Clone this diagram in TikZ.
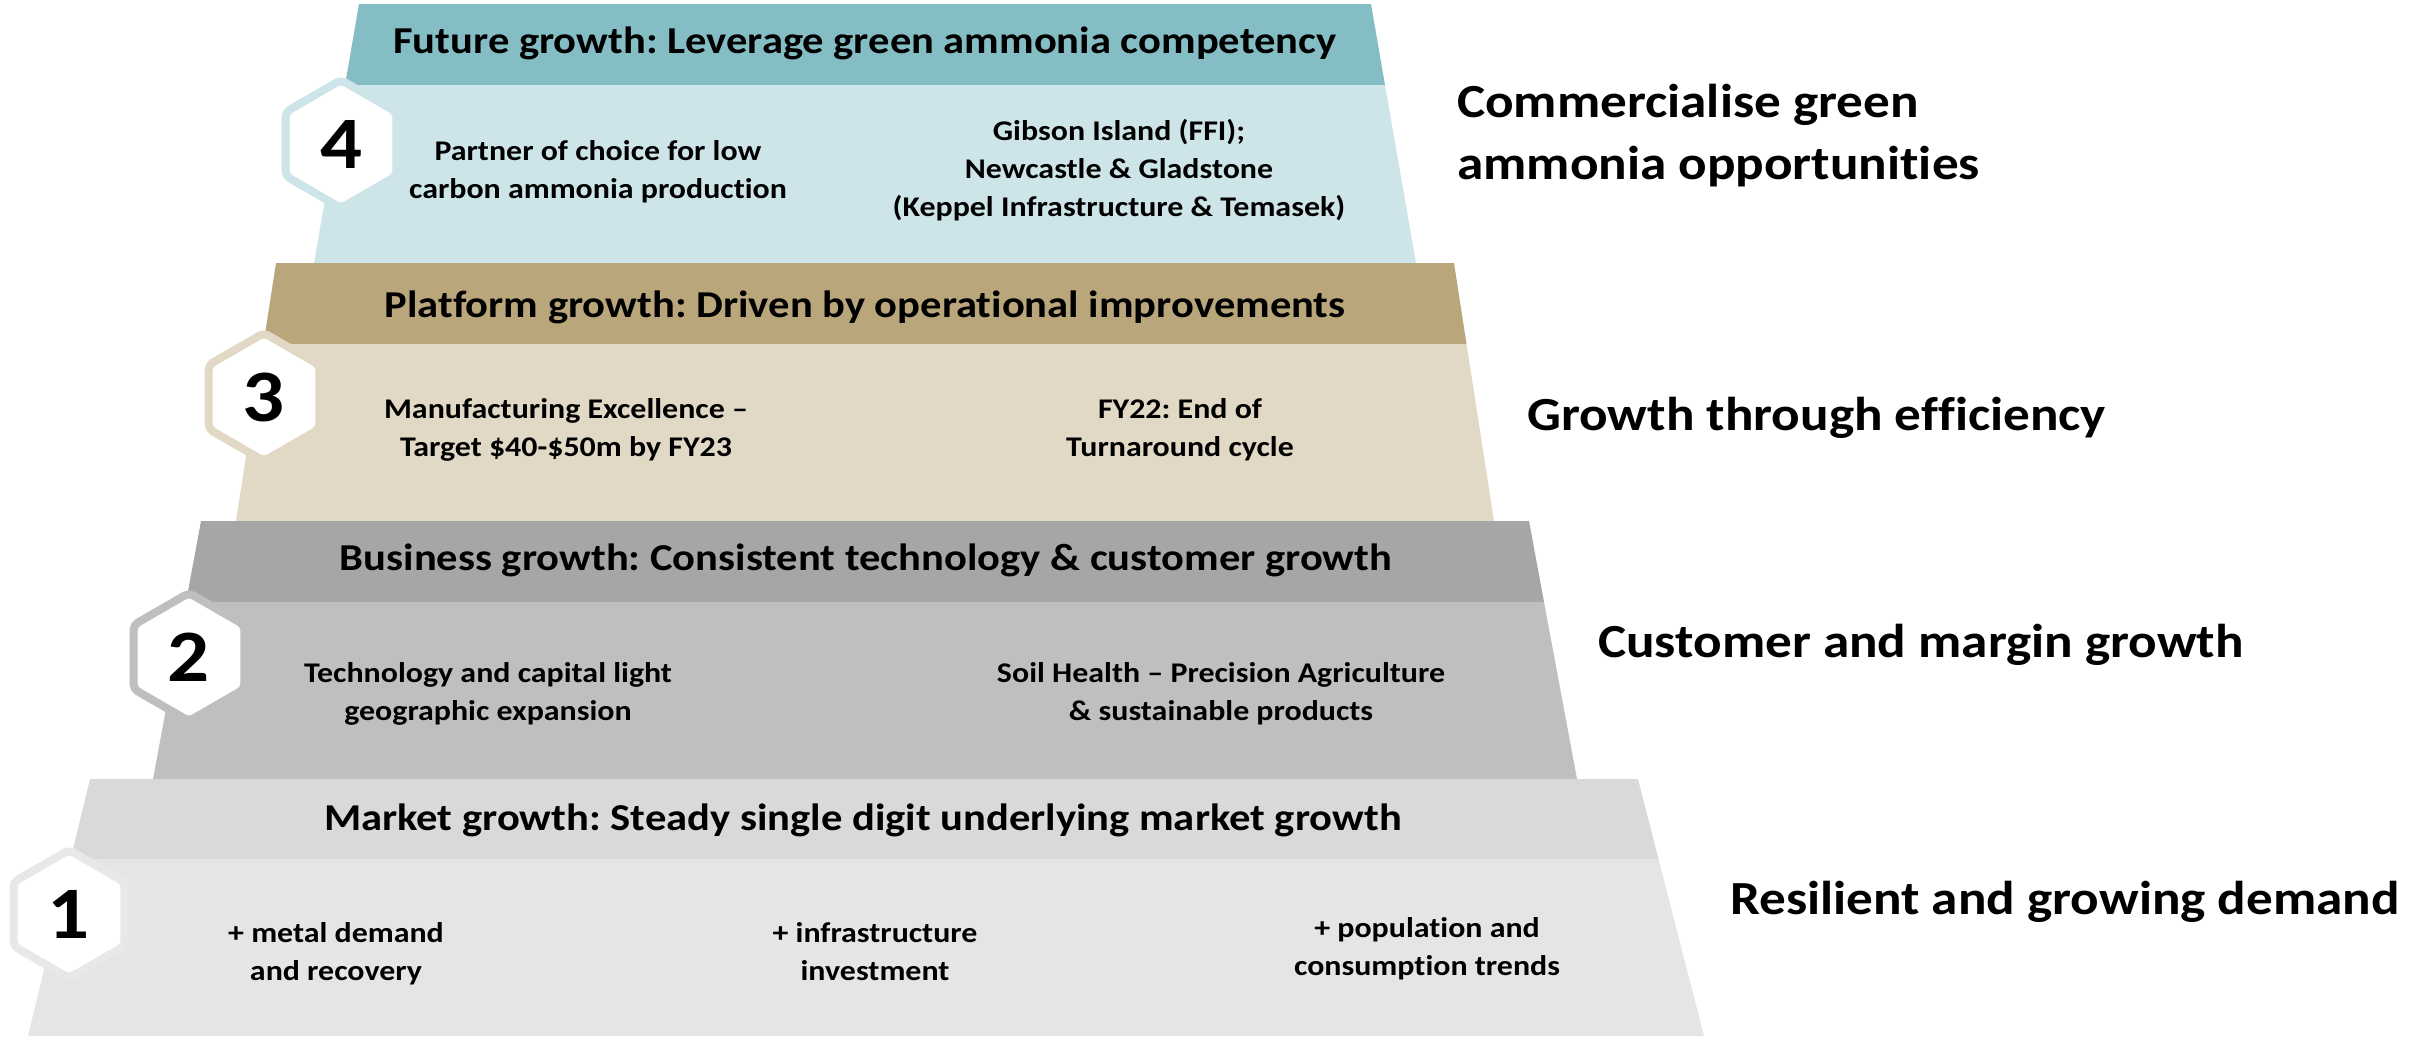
\documentclass[tikz,border=0pt]{standalone}
\usepackage{fontspec}
\setmainfont{Carlito}[FakeStretch=1.12,Ligatures=NoCommon]
\usetikzlibrary{shapes.geometric}
\definecolor{tealH}{HTML}{84BDC4}
\definecolor{tealB}{HTML}{CDE5E8}
\definecolor{sandH}{HTML}{B9A67A}
\definecolor{sandB}{HTML}{E1D9C5}
\definecolor{greyH}{HTML}{A6A6A6}
\definecolor{greyB}{HTML}{BFBFBF}
\definecolor{lightH}{HTML}{D9D9D9}
\definecolor{lightB}{HTML}{E5E5E5}
\definecolor{lightX}{HTML}{E8E8E8}
\frenchspacing
\tikzset{
  hexbox/.style={regular polygon, regular polygon sides=6, shape border rotate=30,
    minimum size=128pt, inner sep=0pt, fill=white, line width=8pt, rounded corners=5pt,
    font=\fontsize{74}{80}\selectfont\bfseries},
  headtext/.style={anchor=base, inner sep=0pt, font=\fontsize{38}{46}\selectfont\bfseries},
  bodytext/.style={anchor=base, inner sep=0pt, align=center, font=\fontsize{28.5}{38}\selectfont\bfseries},
  sidetext/.style={anchor=base west, inner sep=0pt, align=left, font=\fontsize{47.5}{62}\selectfont\bfseries}
}
\begin{document}
\begin{tikzpicture}[x=1pt,y=-1pt]
\useasboundingbox (0,0) rectangle (2425,1036);
% tier 4
\fill[tealH] (359,4) -- (1371,4) -- (1385,85) -- (345,85) -- cycle;
\fill[tealB] (345,85) -- (1385,85) -- (1416,263) -- (314,263) -- cycle;
% tier 3
\fill[sandH] (276,263) -- (1454,263) -- (1466.5,344) -- (263.5,344) -- cycle;
\fill[sandB] (263.5,344) -- (1466.5,344) -- (1494,521) -- (236,521) -- cycle;
% tier 2
\fill[greyH] (201,521) -- (1529,521) -- (1544,602) -- (186,602) -- cycle;
\fill[greyB] (186,602) -- (1544,602) -- (1577,779) -- (153,779) -- cycle;
% tier 1
\fill[lightH] (90,779) -- (1638,779) -- (1658.5,859) -- (70.7,859) -- cycle;
\fill[lightB] (70.7,859) -- (1658.5,859) -- (1704,1036) -- (28,1036) -- cycle;

% hexagons
\node[hexbox, draw=tealB] (h4) at (341,144) {4};
\node[hexbox, draw=sandB] (h3) at (264,397) {3};
\node[hexbox, draw=greyB] (h2) at (189,657) {2};
\node[hexbox, draw=lightX] (h1) at (69,914) {1};

% headers
\node[headtext] (t4) at (865,53) {Future growth: Leverage green ammonia competency};
\node[headtext] (t3) at (865,317) {Platform growth: Driven by operational improvements};
\node[headtext] (t2) at (866,570) {Business growth: Consistent technology \& customer growth};
\node[headtext] (t1) at (863,830) {Market growth: Steady single digit underlying market growth};

% bodies (base = baseline of last line)
\node[bodytext] (b4a) at (598,198) {Partner of choice for low\\carbon ammonia production};
\node[bodytext] (b4b) at (1119,216) {Gibson Island (FFI);\\Newcastle \& Gladstone\\(Keppel Infrastructure \& Temasek)};
\node[bodytext] (b3a) at (566,456) {Manufacturing Excellence –\\Target \$40-\$50m by FY23};
\node[bodytext] (b3b) at (1180,456) {FY22: End of\\Turnaround cycle};
\node[bodytext] (b2a) at (488,720) {Technology and capital light\\geographic expansion};
\node[bodytext] (b2b) at (1221,720) {Soil Health – Precision Agriculture\\\& sustainable products};
\node[bodytext] (b1a) at (336,980) {+ metal demand\\and recovery};
\node[bodytext] (b1b) at (875,980) {+ infrastructure\\investment};
\node[bodytext] (b1c) at (1427,975) {+ population and\\consumption trends};

% side labels
\node[sidetext] (s4) at (1457,179) {Commercialise green\\ammonia opportunities};
\node[sidetext] (s3) at (1527,430) {Growth through efficiency};
\node[sidetext] (s2) at (1598,657) {Customer and margin growth};
\node[sidetext] (s1) at (1730,914) {Resilient and growing demand};
\end{tikzpicture}
\end{document}
